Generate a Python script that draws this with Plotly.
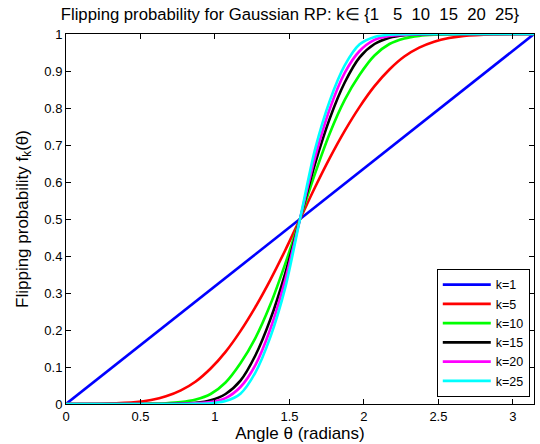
import plotly.graph_objects as go

theta = [0, 0.271, 0.471, 0.571, 0.671, 0.771, 0.871, 0.971, 1.071, 1.171, 1.271, 1.371, 1.471, 1.571,
         1.671, 1.771, 1.871, 1.971, 2.071, 2.171, 2.271, 2.371, 2.471, 2.571, 2.671, 2.871, 3.1416]

theta_k1 = [0, 3.1416]
f_k1 = [0, 1]

f_k5 = [0, 0.001, 0.005, 0.011, 0.021, 0.037, 0.061, 0.096, 0.141, 0.197, 0.262, 0.335, 0.415, 0.5,
        0.585, 0.665, 0.738, 0.803, 0.859, 0.904, 0.939, 0.963, 0.979, 0.989, 0.995, 0.999, 1]
f_k10 = [0, 0, 0, 0.001, 0.002, 0.005, 0.012, 0.027, 0.058, 0.110, 0.178, 0.268, 0.378, 0.5,
         0.622, 0.732, 0.822, 0.890, 0.942, 0.973, 0.988, 0.995, 0.998, 0.999, 1, 1, 1]
f_k15 = [0, 0, 0, 0, 0, 0.001, 0.003, 0.010, 0.027, 0.063, 0.131, 0.228, 0.352, 0.5,
         0.648, 0.772, 0.869, 0.937, 0.973, 0.99, 0.997, 0.999, 1, 1, 1, 1, 1]
f_k20 = [0, 0, 0, 0, 0, 0.0005, 0.002, 0.005, 0.016, 0.046, 0.105, 0.202, 0.335, 0.5,
         0.665, 0.798, 0.895, 0.954, 0.984, 0.995, 0.998, 0.9995, 1, 1, 1, 1, 1]
f_k25 = [0, 0, 0, 0, 0, 0, 0.0005, 0.002, 0.008, 0.028, 0.085, 0.18, 0.313, 0.5,
         0.687, 0.82, 0.915, 0.972, 0.992, 0.998, 0.9995, 1, 1, 1, 1, 1, 1]

labels = ["k=1", "k=5", "k=10", "k=15", "k=20", "k=25"]
colors = ["#0000FF", "#FF0000", "#00FF00", "#000000", "#FF00FF", "#00FFFF"]

x_ticks = [0, 0.5, 1, 1.5, 2, 2.5, 3]
x_tick_labels = ["0", "0.5", "1", "1.5", "2", "2.5", "3"]
y_ticks = [0, 0.1, 0.2, 0.3, 0.4, 0.5, 0.6, 0.7, 0.8, 0.9, 1]
y_tick_labels = ["0", "0.1", "0.2", "0.3", "0.4", "0.5", "0.6", "0.7", "0.8", "0.9", "1"]

series = [(theta_k1, f_k1), (theta, f_k5), (theta, f_k10), (theta, f_k15), (theta, f_k20), (theta, f_k25)]

FONT = "Liberation Sans, Arial, Helvetica, sans-serif"
NB = "\u00a0"
title_text = "Flipping probability for Gaussian RP: k\u2208 {1" + NB * 3 + "5" + NB * 2 + "10" + NB * 2 + "15" + NB * 2 + "20" + NB * 2 + "25}"

fig = go.Figure()
for (xs, ys), name, c in zip(series, labels, colors):
    fig.add_trace(go.Scatter(x=xs, y=ys, mode="lines", name=name,
                             line=dict(color=c, width=2.6, shape="spline", smoothing=0.8)))

axis_common = dict(showline=True, linecolor="black", linewidth=1, mirror="ticks",
                   ticks="inside", ticklen=5, tickcolor="black", showgrid=False,
                   zeroline=False, automargin=False,
                   tickfont=dict(size=13, color="black", family=FONT))

fig.update_layout(
    width=540, height=444,
    margin=dict(l=66, r=6, t=34, b=40),
    paper_bgcolor="white", plot_bgcolor="white",
    font=dict(family=FONT, color="black"),
    title=dict(text=title_text,
               x=0.537, xanchor="center", y=0.967, yanchor="middle",
               font=dict(size=16.7, family=FONT, color="black")),
    xaxis=dict(range=[0, 3.1416], tickvals=x_ticks, ticktext=x_tick_labels,
               title=dict(text="Angle \u03b8 (radians)", font=dict(size=17), standoff=0),
               **axis_common),
    yaxis=dict(range=[0, 1], tickvals=y_ticks, ticktext=y_tick_labels,
               title=dict(text="Flipping probability f<sub>k</sub>(\u03b8)", font=dict(size=17), standoff=11),
               **axis_common),
    legend=dict(x=0.991, y=0.019, xanchor="right", yanchor="bottom",
                bgcolor="white", bordercolor="black", borderwidth=1,
                font=dict(size=12.5, family=FONT, color="black"),
                itemwidth=48, tracegroupgap=0),
    showlegend=True,
)

fig.write_html("out.html", config={"displayModeBar": False},
               post_script="document.body.style.margin='0';document.body.style.padding='0';document.body.style.overflow='hidden';")
